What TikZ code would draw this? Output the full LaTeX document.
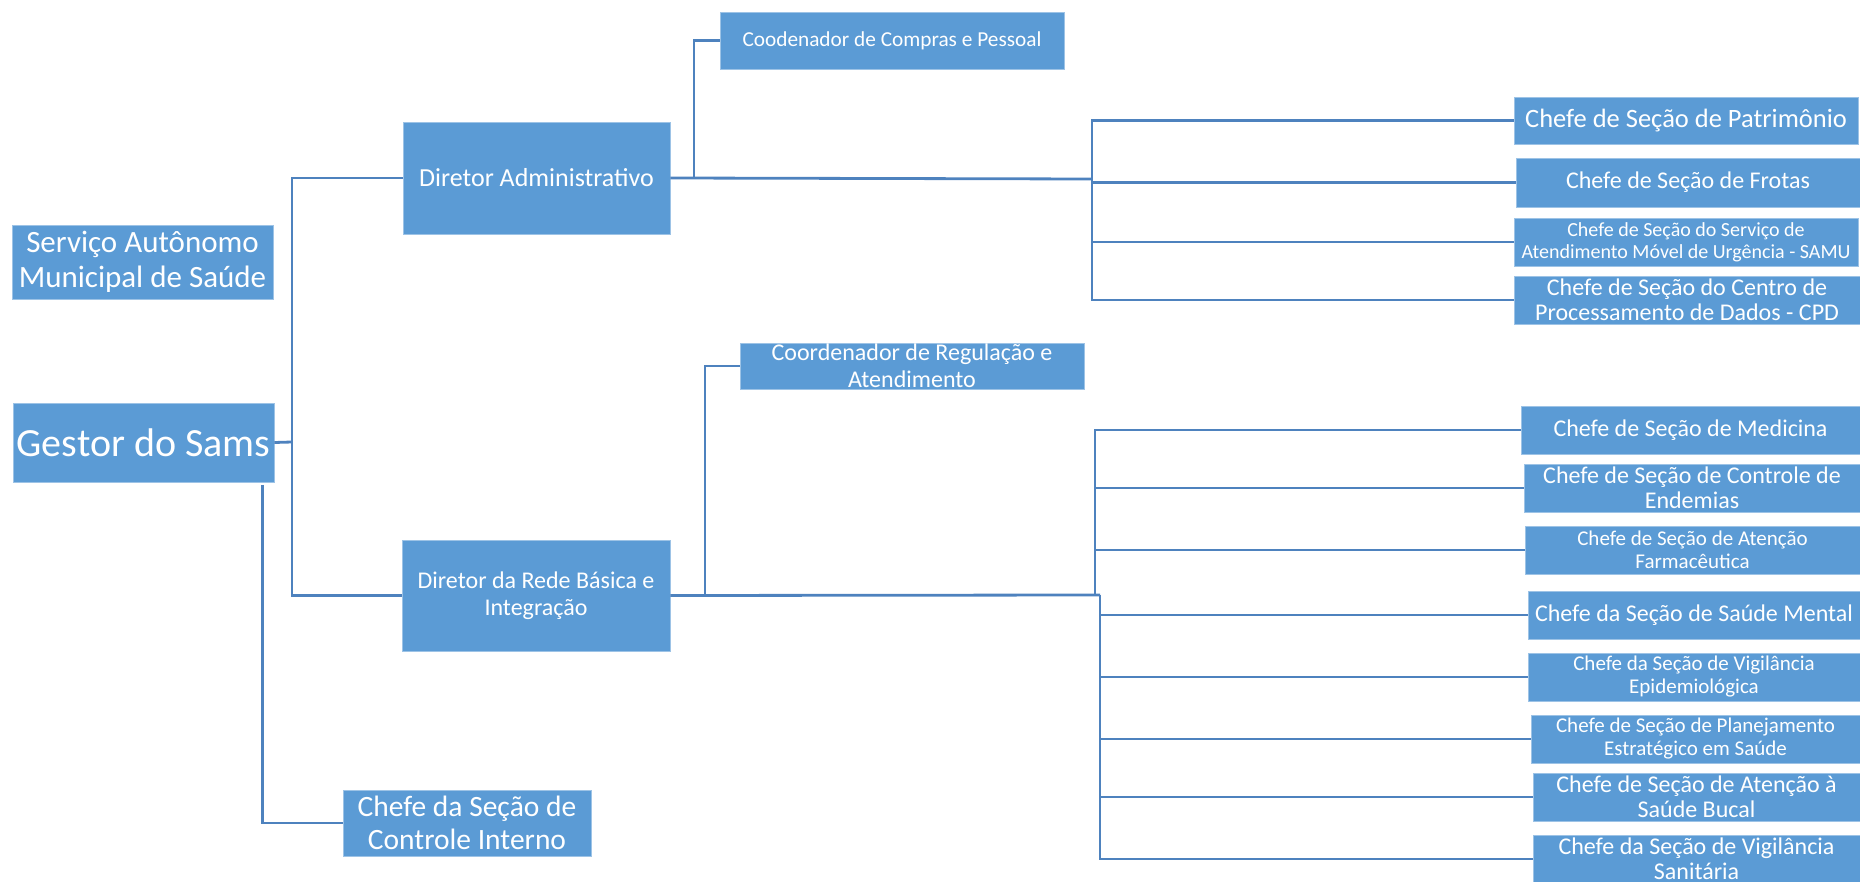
\documentclass[tikz,border=0pt]{standalone}
\usepackage{fontspec}
\setmainfont{Carlito}
\definecolor{boxblue}{HTML}{5B9BD5}
\definecolor{linkblue}{HTML}{4E82BE}
\newcommand\fsz[2]{\fontsize{#1}{#2}\selectfont}
\begin{document}
\begin{tikzpicture}[x=1pt,y=-1pt,
  box/.style={fill=boxblue, draw=boxblue!60!white, line width=0.8pt, text=white, inner sep=0pt, align=center},
  link/.style={draw=linkblue, line width=2.8pt}]
\useasboundingbox (0,0) rectangle (1860,882);
% boxes
\node[box, minimum width=261, minimum height=74, font=\fsz{31}{35}] (serv) at (142.5,262) {Serviço Autônomo\\Municipal de Saúde};
\node[box, minimum width=261, minimum height=79, font=\fsz{40}{46}] (gestor) at (143.5,442.5) {Gestor do Sams};
\node[box, minimum width=267, minimum height=112, font=\fsz{26}{31}] (dadm) at (536.5,178) {Diretor Administrativo};
\node[box, minimum width=268, minimum height=111, font=\fsz{24}{27}] (drede) at (536,595.5) {Diretor da Rede Básica e\\Integração};
\node[box, minimum width=248, minimum height=66, font=\fsz{29.5}{33}] (cint) at (467,823) {Chefe da Seção de\\Controle Interno};
\node[box, minimum width=344, minimum height=57, font=\fsz{21.3}{25}] (ccomp) at (892,40.5) {Coodenador de Compras e Pessoal};
\node[box, minimum width=344, minimum height=46, font=\fsz{24}{27}] (creg) at (912,366) {Coordenador de Regulação e\\Atendimento};
% admin column
\node[box, minimum width=344, minimum height=47, font=\fsz{26.5}{30}] (patr) at (1686,120.5) {Chefe de Seção de Patrimônio};
\node[box, minimum width=344, minimum height=49, font=\fsz{24}{28}] (frot) at (1688,182.5) {Chefe de Seção de Frotas};
\node[box, minimum width=344, minimum height=48, font=\fsz{20}{22}] (samu) at (1686,242) {Chefe de Seção do Serviço de\\Atendimento Móvel de Urgência - SAMU};
\node[box, minimum width=346, minimum height=48, font=\fsz{24}{25}] (cpd) at (1687,300) {Chefe de Seção do Centro de\\Processamento de Dados - CPD};
% rede column
\node[box, minimum width=339, minimum height=48, font=\fsz{24}{28}] (med) at (1690.5,430) {Chefe de Seção de Medicina};
\node[box, minimum width=336, minimum height=48, font=\fsz{24}{25}] (endm) at (1692,488) {Chefe de Seção de Controle de\\Endemias};
\node[box, minimum width=335, minimum height=48, font=\fsz{21}{23}] (farm) at (1692.5,550) {Chefe de Seção de Atenção\\Farmacêutica};
\node[box, minimum width=332, minimum height=48, font=\fsz{24}{28}] (ment) at (1694,615) {Chefe da Seção de Saúde Mental};
\node[box, minimum width=332, minimum height=48, font=\fsz{21}{23}] (epid) at (1694,677) {Chefe da Seção de Vigilância\\Epidemiológica};
\node[box, minimum width=329, minimum height=48, font=\fsz{21}{23}] (plan) at (1695.5,739) {Chefe de Seção de Planejamento\\Estratégico em Saúde};
\node[box, minimum width=327, minimum height=48, font=\fsz{24}{25}] (buc) at (1696.5,797) {Chefe de Seção de Atenção à\\Saúde Bucal};
\node[box, minimum width=327, minimum height=48, font=\fsz{24}{25}] (san) at (1696.5,859) {Chefe da Seção de Vigilância\\Sanitária};
% junction coordinates
\coordinate (busA) at (292,442);
\coordinate (jA) at (694,179);
\coordinate (busB) at (1092,179);
\coordinate (jB) at (705,595);
\coordinate (busC1) at (1095,595);
\coordinate (busC) at (1100,595);
% connectors from Gestor
\draw[link] (gestor.east) -- (busA);
\draw[link] (dadm.west) -| (busA) |- (drede.west);
\draw[link] ([shift={(-12,2.5)}]gestor.south east) |- (cint.west);
% Diretor Administrativo
\draw[link] (dadm.east) -- (busB);
\draw[link] (ccomp.west) -| (jA);
\draw[link] (patr.west) -| (busB) |- (cpd.west);
\draw[link] (frot.west) -- (frot.west -| busB);
\draw[link] (samu.west) -- (samu.west -| busB);
% Diretor da Rede
\draw[link] (drede.east) -- (busC);
\draw[link] (creg.west) -| (jB);
\draw[link] (med.west) -| (busC1);
\draw[link] (busC) |- (san.west);
\draw[link] (endm.west) -- (endm.west -| busC1);
\draw[link] (farm.west) -- (farm.west -| busC1);
\draw[link] (ment.west) -- (ment.west -| busC);
\draw[link] (epid.west) -- (epid.west -| busC);
\draw[link] (plan.west) -- (plan.west -| busC);
\draw[link] (buc.west) -- (buc.west -| busC);
\end{tikzpicture}
\end{document}
